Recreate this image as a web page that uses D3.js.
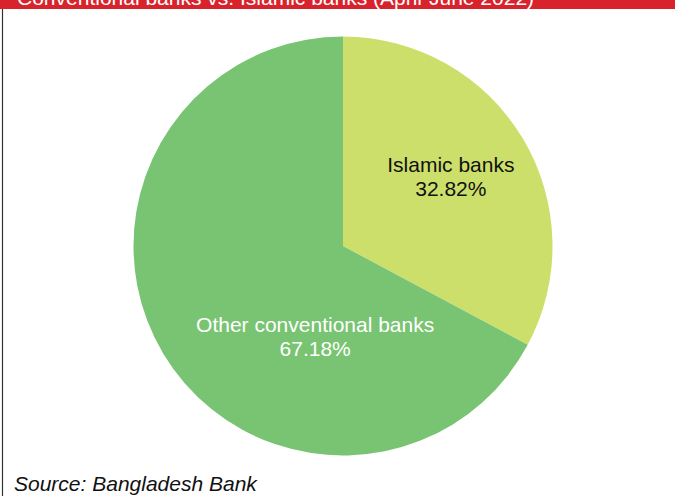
<!DOCTYPE html>
<html>
<head>
<meta charset="utf-8">
<script src="https://cdn.jsdelivr.net/npm/d3@7"></script>
<style>
  body { margin: 0; background: #fff; }
  svg { display: block; font-family: "Liberation Sans", Arial, sans-serif; }
</style>
</head>
<body>
<div id="chart"></div>
<script>
// chart data
const categories = ['Islamic banks', 'Other conventional banks'];
const shares = [32.82, 67.18];
const sliceColors = ['#cddf6b', '#79c472'];
const labelColors = ['#111111', '#ffffff'];

const title = 'Conventional banks vs. Islamic banks (April-June 2022)';
const source = 'Source: Bangladesh Bank';

const width = 675;
const height = 496;
const cx = 343;
const cy = 246;
const radius = 209.5;

const svg = d3
  .select('#chart')
  .append('svg')
  .attr('width', width)
  .attr('height', height);

// header bar, text mostly cropped off the top
svg
  .append('rect')
  .attr('x', 0)
  .attr('y', 0)
  .attr('width', width)
  .attr('height', 9)
  .style('fill', '#d9232c');

svg
  .append('text')
  .text(title)
  .attr('x', 17)
  .attr('y', 5)
  .style('font-size', '21px')
  .style('fill', '#ffffff');

// left frame line
svg
  .append('line')
  .attr('x1', 2.5)
  .attr('x2', 2.5)
  .attr('y1', 9)
  .attr('y2', height)
  .style('stroke', '#333')
  .style('stroke-width', 1.2);

const pie = d3.pie().sort(null).value((d) => d.value);
const arc = d3.arc().innerRadius(0).outerRadius(radius);

const data = categories.map((c, i) => ({ name: c, value: shares[i], i }));
const arcs = pie(data);

const g = svg.append('g').attr('transform', 'translate(' + cx + ',' + cy + ')');

g.selectAll('path')
  .data(arcs)
  .enter()
  .append('path')
  .attr('d', arc)
  .style('fill', (d) => sliceColors[d.data.i]);

// label placement relative to the slice mid angle
const labelPos = [
  { r: 0.6, dx: 0, dy: -9 },
  { r: 0.5, dx: 62, dy: 32 },
];

arcs.forEach((d) => {
  const p = labelPos[d.data.i];
  const mid = (d.startAngle + d.endAngle) / 2;
  const x = Math.sin(mid) * radius * p.r + p.dx;
  const y = -Math.cos(mid) * radius * p.r + p.dy;
  const t = g
    .append('text')
    .attr('text-anchor', 'middle')
    .style('font-size', '21px')
    .style('fill', labelColors[d.data.i]);
  t.append('tspan').attr('x', x).attr('y', y).text(d.data.name);
  t.append('tspan')
    .attr('x', x)
    .attr('y', y + 24)
    .text(d3.format('.2f')(d.data.value) + '%');
});

svg
  .append('text')
  .text(source)
  .attr('x', 14)
  .attr('y', 491)
  .style('font-size', '21px')
  .style('font-style', 'italic')
  .style('fill', '#111');
</script>
</body>
</html>
